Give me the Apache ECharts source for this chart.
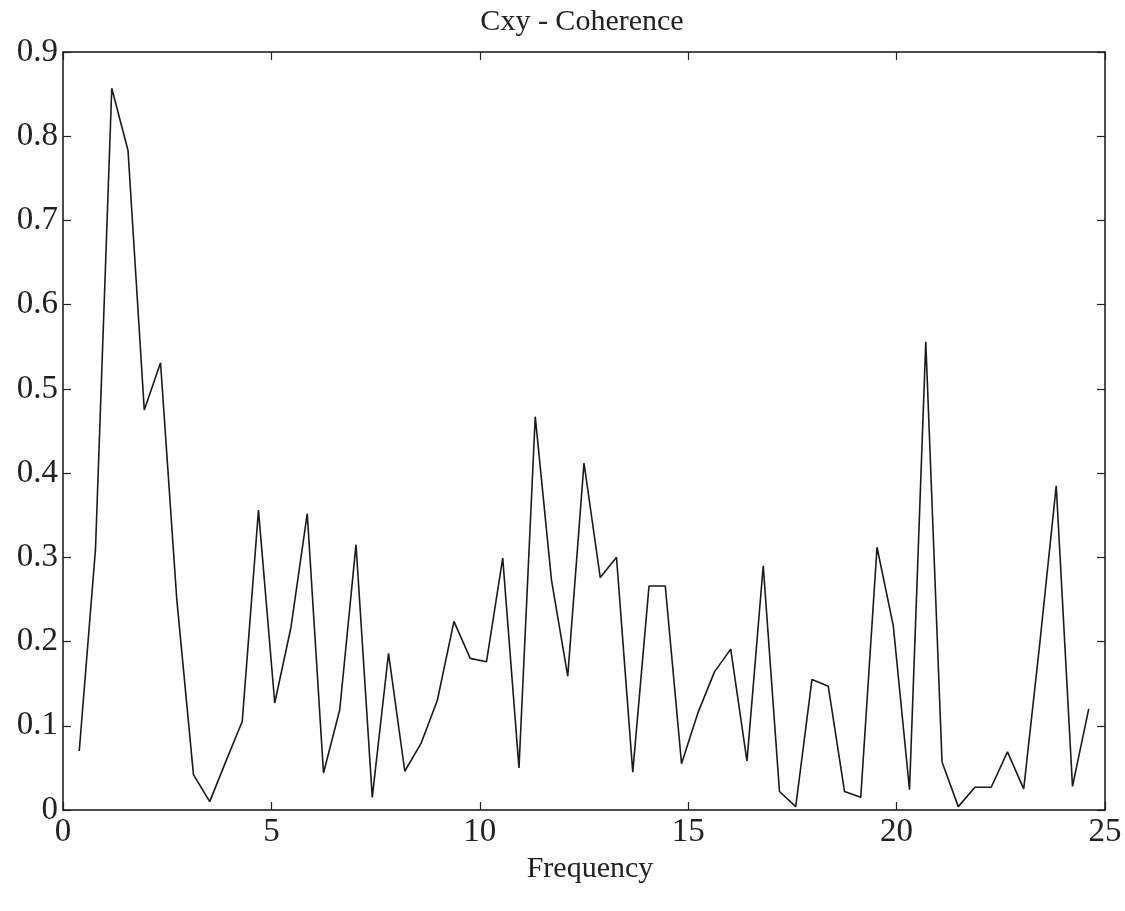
<!DOCTYPE html>
<html>
<head>
<meta charset="utf-8">
<script src="https://cdn.jsdelivr.net/npm/echarts@6/dist/echarts.min.js"></script>
<style>
html,body{margin:0;padding:0;background:#fff;}
#c{width:1125px;height:911px;}
</style>
</head>
<body>
<div id="c"></div>
<script>
var titleText = 'Cxy - Coherence';
var xAxisName = 'Frequency';
var frequency = [0.39, 0.78, 1.17, 1.56, 1.95, 2.34, 2.73, 3.13, 3.52, 3.91, 4.30, 4.69, 5.08, 5.47, 5.86, 6.25, 6.64, 7.03, 7.42, 7.81, 8.20, 8.59, 8.98, 9.38, 9.77, 10.16, 10.55, 10.94, 11.33, 11.72, 12.11, 12.50, 12.89, 13.28, 13.67, 14.06, 14.45, 14.84, 15.23, 15.63, 16.02, 16.41, 16.80, 17.19, 17.58, 17.97, 18.36, 18.75, 19.14, 19.53, 19.92, 20.31, 20.70, 21.09, 21.48, 21.88, 22.27, 22.66, 23.05, 23.44, 23.83, 24.22, 24.61];
var coherence = [0.07, 0.31, 0.857, 0.783, 0.475, 0.531, 0.25, 0.042, 0.01, 0.058, 0.105, 0.356, 0.127, 0.217, 0.352, 0.044, 0.119, 0.315, 0.015, 0.186, 0.046, 0.079, 0.13, 0.224, 0.18, 0.176, 0.299, 0.05, 0.467, 0.273, 0.159, 0.412, 0.276, 0.30, 0.045, 0.266, 0.266, 0.055, 0.115, 0.164, 0.191, 0.058, 0.29, 0.022, 0.004, 0.155, 0.147, 0.022, 0.015, 0.312, 0.219, 0.024, 0.556, 0.057, 0.004, 0.027, 0.027, 0.069, 0.025, 0.2, 0.385, 0.028, 0.12];
var xTicks = {min: 0, max: 25, interval: 5};
var yTicks = {min: 0, max: 0.9, interval: 0.1};

var serif = '"Liberation Serif", "DejaVu Serif", serif';
var data = frequency.map(function (f, i) { return [f, coherence[i]]; });
var axisLine = {show: true, onZero: false, lineStyle: {color: '#111', width: 1.5}};
var tick = {show: true, inside: true, length: 8, lineStyle: {color: '#222', width: 1.2}};

var chart = echarts.init(document.getElementById('c'), null, {renderer: 'canvas'});
chart.setOption({
  backgroundColor: '#ffffff',
  animation: false,
  title: {
    text: titleText,
    left: 577, top: 2, textAlign: 'center',
    textStyle: {fontFamily: serif, fontSize: 30, fontWeight: 'normal', color: '#222'}
  },
  grid: {left: 63, right: 20, top: 52, bottom: 101, containLabel: false},
  xAxis: [{
    type: 'value', min: xTicks.min, max: xTicks.max, interval: xTicks.interval,
    position: 'bottom',
    name: xAxisName, nameLocation: 'middle', nameGap: 44,
    nameTextStyle: {fontFamily: serif, fontSize: 30, color: '#222', padding: [0, 0, 0, 12]},
    axisLine: axisLine, axisTick: tick, splitLine: {show: false},
    axisLabel: {fontFamily: serif, fontSize: 33, color: '#222', margin: 6}
  }, {
    type: 'value', min: xTicks.min, max: xTicks.max, interval: xTicks.interval,
    position: 'top',
    axisLine: axisLine, axisTick: tick, splitLine: {show: false},
    axisLabel: {show: false}
  }],
  yAxis: [{
    type: 'value', min: yTicks.min, max: yTicks.max, interval: yTicks.interval,
    position: 'left',
    axisLine: axisLine, axisTick: tick, splitLine: {show: false},
    axisLabel: {fontFamily: serif, fontSize: 33, color: '#222', margin: 5}
  }, {
    type: 'value', min: yTicks.min, max: yTicks.max, interval: yTicks.interval,
    position: 'right',
    axisLine: axisLine, axisTick: tick, splitLine: {show: false},
    axisLabel: {show: false}
  }],
  series: [{
    type: 'line',
    xAxisIndex: 0, yAxisIndex: 0,
    data: data,
    showSymbol: false,
    symbol: 'none',
    lineStyle: {color: '#1a1a1a', width: 1.6},
    z: 5
  }]
});
</script>
</body>
</html>
